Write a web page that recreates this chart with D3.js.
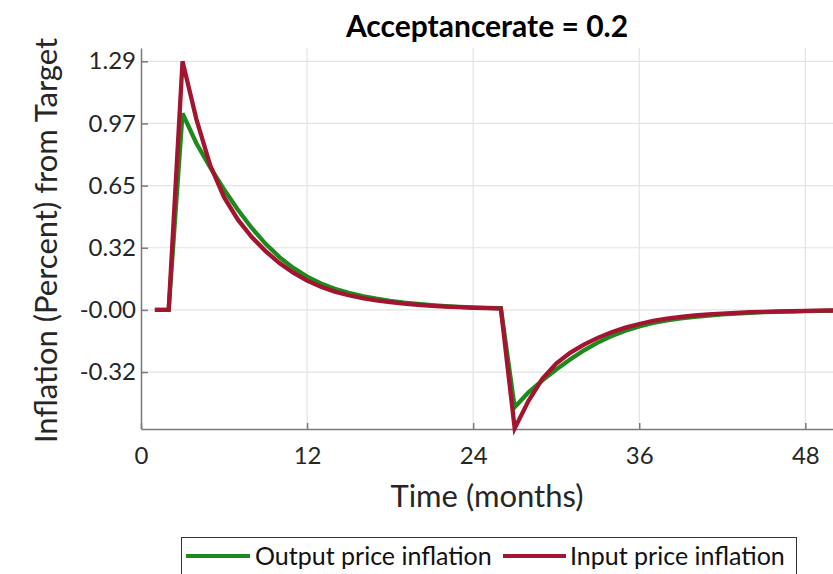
<!DOCTYPE html>
<html>
<head>
<meta charset="utf-8">
<script src="https://cdn.jsdelivr.net/npm/d3@7"></script>
<style>
  body { margin: 0; background: #fff; }
  svg { font-family: Lato, "Open Sans", sans-serif; }
</style>
</head>
<body>
<div id="chart"></div>
<script>
// Months 1..50
const months = d3.range(1, 51);

// Output price inflation (green)
const outputInflation = [
  0, 0, 1.02, 0.865, 0.74, 0.625, 0.52, 0.425, 0.343, 0.274,
  0.218, 0.173, 0.137, 0.11, 0.089, 0.072, 0.058, 0.047, 0.038, 0.031,
  0.025, 0.02, 0.016, 0.013, 0.011, 0.009, -0.505, -0.428, -0.366, -0.309,
  -0.257, -0.21, -0.17, -0.136, -0.108, -0.086, -0.068, -0.054, -0.044, -0.036,
  -0.029, -0.023, -0.019, -0.015, -0.012, -0.01, -0.008, -0.006, -0.005, -0.004
];

// Input price inflation (red)
const inputInflation = [
  0, 0, 1.29, 0.99, 0.75, 0.585, 0.468, 0.378, 0.305, 0.243,
  0.193, 0.152, 0.12, 0.095, 0.076, 0.061, 0.049, 0.04, 0.032, 0.026,
  0.021, 0.017, 0.014, 0.011, 0.009, 0.007, -0.615, -0.472, -0.358, -0.279,
  -0.223, -0.18, -0.145, -0.116, -0.092, -0.073, -0.057, -0.045, -0.036, -0.029,
  -0.023, -0.019, -0.015, -0.012, -0.01, -0.008, -0.007, -0.005, -0.004, -0.003
];

const xTicks = [0, 12, 24, 36, 48];
const yTicks = [-0.3225, 0, 0.3225, 0.645, 0.9675, 1.29];
const yTickLabels = ["-0.32", "-0.00", "0.32", "0.65", "0.97", "1.29"];

const seriesNames = ["Output price inflation", "Input price inflation"];
const seriesColors = ["#1e8a1e", "#a2142f"];

const W = 833, H = 574;
const margin = {top: 48, right: 0, bottom: 145, left: 141}; // plot box

const svg = d3.select("#chart").append("svg")
    .attr("width", W)
    .attr("height", H);

const x = d3.scaleLinear()
    .domain([0, 50])
    .range([margin.left, W - margin.right]);
const y = d3.scaleLinear()
    .domain([-0.618, 1.359])
    .range([H - margin.bottom, margin.top]);

// gridlines
svg.append("g")
    .selectAll("line")
    .data(xTicks.filter(d => d > 0))
    .enter().append("line")
        .attr("x1", d => x(d)).attr("x2", d => x(d))
        .attr("y1", y.range()[0]).attr("y2", y.range()[1])
        .attr("stroke", "#e3e3e3").attr("stroke-width", 1.2);
svg.append("g")
    .selectAll("line")
    .data(yTicks)
    .enter().append("line")
        .attr("x1", x.range()[0]).attr("x2", x.range()[1])
        .attr("y1", d => y(d)).attr("y2", d => y(d))
        .attr("stroke", "#e3e3e3").attr("stroke-width", 1.2);

// axes (ticks pointing inside)
const xAxis = svg.append("g")
    .attr("transform", `translate(0,${y.range()[0]})`)
    .call(d3.axisBottom(x).tickValues(xTicks).tickSizeInner(-6).tickSizeOuter(0).tickPadding(18));
const yAxis = svg.append("g")
    .attr("transform", `translate(${x.range()[0]},0)`)
    .call(d3.axisLeft(y).tickValues(yTicks).tickFormat((d, i) => yTickLabels[i]).tickSizeInner(-7).tickSizeOuter(0).tickPadding(5));

[xAxis, yAxis].forEach(a => {
    a.select(".domain").attr("stroke", "#7a7a7a").attr("stroke-width", 1.5);
    a.selectAll(".tick line").attr("stroke", "#7a7a7a").attr("stroke-width", 1.5);
    a.selectAll(".tick text")
        .attr("fill", "#262626")
        .style("font-size", "24px")
        .style("font-family", "Lato, 'Open Sans', sans-serif");
});
xAxis.selectAll(".tick text").attr("dy", "0.71em");

// lines
const line = d3.line()
    .x((d, i) => x(months[i]))
    .y(d => y(d));

[outputInflation, inputInflation].forEach((vals, k) => {
    svg.append("path")
        .datum(vals)
        .attr("fill", "none")
        .attr("stroke", seriesColors[k])
        .attr("stroke-width", 4.3)
        .attr("stroke-linejoin", "miter")
        .attr("d", line);
});

// title
svg.append("text")
    .attr("x", (x.range()[0] + x.range()[1]) / 2)
    .attr("y", 37)
    .attr("text-anchor", "middle")
    .style("font-size", "30px")
    .style("font-weight", "bold")
    .text("Acceptancerate = 0.2");

// axis labels
svg.append("text")
    .attr("x", (x.range()[0] + x.range()[1]) / 2)
    .attr("y", 507)
    .attr("text-anchor", "middle")
    .attr("fill", "#262626")
    .style("font-size", "31px")
    .text("Time (months)");

svg.append("text")
    .attr("transform", `translate(57,${(y.range()[0] + y.range()[1]) / 2 + 2}) rotate(-90)`)
    .attr("text-anchor", "middle")
    .attr("fill", "#262626")
    .style("font-size", "31px")
    .text("Inflation (Percent) from Target");

// legend
const legend = svg.append("g");
legend.append("rect")
    .attr("x", 181.5).attr("y", 537.5)
    .attr("width", 615).attr("height", 50)
    .attr("fill", "#fff")
    .attr("stroke", "#333").attr("stroke-width", 1);

const legendItems = [
    {x0: 186, x1: 250, tx: 255},
    {x0: 503, x1: 566, tx: 570}
];
legendItems.forEach((it, k) => {
    legend.append("line")
        .attr("x1", it.x0).attr("x2", it.x1)
        .attr("y1", 556).attr("y2", 556)
        .attr("stroke", seriesColors[k])
        .attr("stroke-width", 4);
    legend.append("text")
        .attr("x", it.tx).attr("y", 565)
        .attr("fill", "#111")
        .style("font-size", "25px")
        .text(seriesNames[k]);
});
</script>
</body>
</html>
